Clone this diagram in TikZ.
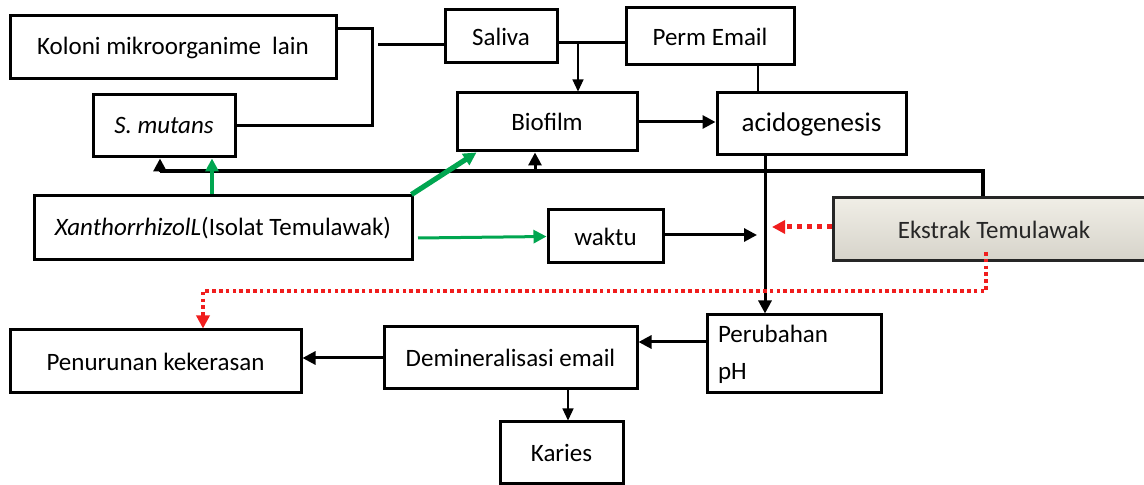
\documentclass[tikz,border=0pt]{standalone}
\usepackage{fontspec}
\setmainfont{Carlito}
\usetikzlibrary{arrows.meta,positioning}
\definecolor{arrgreen}{RGB}{0,166,80}
\definecolor{dotred}{RGB}{240,30,30}
\definecolor{ekstop}{RGB}{240,238,230}
\definecolor{eksbot}{RGB}{214,211,202}

\begin{document}
\begin{tikzpicture}[x=0.5pt,y=-0.5pt,
    box/.style={draw,line width=1.5pt,inner sep=2pt,font=\fontsize{12.5}{15}\selectfont},
    conn/.style={line width=1.5pt},
    arr/.style={line width=1.5pt,-{Triangle[length=6.5pt,width=6.5pt]}},
    thinarr/.style={line width=0.6pt,-{Triangle[length=6pt,width=5.5pt]}},
    greenarr/.style={draw=arrgreen,line width=1.5pt,-{Triangle[length=6.5pt,width=6.5pt,fill=arrgreen]}},
    reddot/.style={draw=dotred,line width=1.8pt,dash pattern=on 1.8pt off 1.6pt,
      -{Triangle[length=6.5pt,width=6.5pt,fill=dotred]}}]
 \useasboundingbox (0,0) rectangle (1144,485);
 % boxes
 \node[box,minimum width=163pt,minimum height=31.5pt] (kol) at (173,47.5) {Koloni mikroorganime\ \ lain};
 \node[box,minimum width=71pt,minimum height=31pt] (smu) at (164,126) {\textit{S. mutans}};
 \node[box,minimum width=56pt,minimum height=26.5pt] (sal) at (501,36.5) {Saliva};
 \node[box,minimum width=84pt,minimum height=28.5pt] (perm) at (710,36.5) {Perm Email};
 \node[box,minimum width=90pt,minimum height=29pt] (bio) at (547,122) {Biofilm};
 \node[box,minimum width=94.5pt,minimum height=31pt,font=\fontsize{13.5}{16}\selectfont] (acid) at (811.5,124) {acidogenesis};
 \node[box,minimum width=189pt,minimum height=32pt] (xan) at (223,228) {\textit{XanthorrhizolL}(Isolat Temulawak)};
 \node[box,minimum width=57.5pt,minimum height=26.5pt] (wak) at (605.5,236.5) {waktu};
 \node[box,draw=black!85,text=black!85,top color=ekstop,bottom color=eksbot,minimum width=161pt,minimum height=31.5pt] (eks) at (994,229.5) {Ekstrak Temulawak};
 \node[box,minimum width=87pt,minimum height=39pt,text width=76pt,align=left,inner xsep=5.5pt,
   font=\fontsize{12.5}{18.5}\selectfont] (ph) at (794,354) {Perubahan\\pH};
 \node[box,minimum width=126.5pt,minimum height=31pt] (dem) at (510.5,358) {Demineralisasi email};
 \node[box,minimum width=145.5pt,minimum height=31.5pt] (pen) at (155.5,361.5) {Penurunan kekerasan};
 \node[box,minimum width=61.5pt,minimum height=30.5pt] (kar) at (561.5,452.5) {Karies};
 % top connectors
 \coordinate (kolj) at (372,29);
 \draw[conn] (kol.east |- kolj) -- (kolj) |- (smu.east);
 \coordinate (salin) at (378,45);
 \draw[conn] (salin) -- (salin -| sal.west);
 \coordinate (salj) at (578,43);
 \draw[conn] (salj -| sal.east) -- (salj -| perm.west);
 \draw[thinarr] (salj) -- (salj |- bio.north);
 \coordinate (permj) at (758,65);
 \draw[line width=0.9pt] (permj |- perm.south) -- (permj |- acid.north);
 \draw[arr] (bio.east) -- (bio.east -| acid.west);
 \coordinate (acidj) at (765,155);
 \draw[arr] (acidj |- acid.south) -- (acidj |- ph.north);
 % Ekstrak line to S. mutans and Biofilm
 \coordinate (ekj) at (983,171);
 \coordinate (smuj) at (160,171);
 \coordinate (bioj) at (535,171);
 \draw[line width=2.2pt] (ekj |- eks.north) -- (ekj) -- (smuj);
 \foreach \X/\Y in {smuj/smu,bioj/bio} {\draw[arr] (\X) -- (\X |- \Y.south);}
 % green arrows
 \coordinate (xsm) at (212,196);
 \draw[greenarr,line width=2.4pt] (xsm |- xan.north) -- (xsm |- smu.south);
 \draw[greenarr,line width=2.6pt] ([xshift=-1pt]xan.north east) -- ([xshift=10.5pt]bio.south west);
 \coordinate (xwk) at (418,238);
 \draw[greenarr] (xwk) -- (wak.west);
 \coordinate (wkend) at (757,235);
 \draw[arr] (wkend -| wak.east) -- (wkend);
 % red dotted
 \coordinate (ekend) at (772,227);
 \draw[reddot,line width=2.5pt,dash pattern=on 2.5pt off 2.5pt] (ekend -| eks.west) -- (ekend);
 \coordinate (rdst) at (986,252);
 \coordinate (rdj) at (203,291);
 \draw[reddot] (rdst) |- (rdj) -- (rdj |- pen.north);
 % bottom connectors
 \coordinate (phj) at (707,342);
 \draw[arr] (phj -| ph.west) -- (phj -| dem.east);
 \coordinate (demj) at (568,389);
 \draw[thinarr] (demj |- dem.south) -- (demj |- kar.north);
 \draw[arr] (dem.west) -- (dem.west -| pen.east);
\end{tikzpicture}
\end{document}
